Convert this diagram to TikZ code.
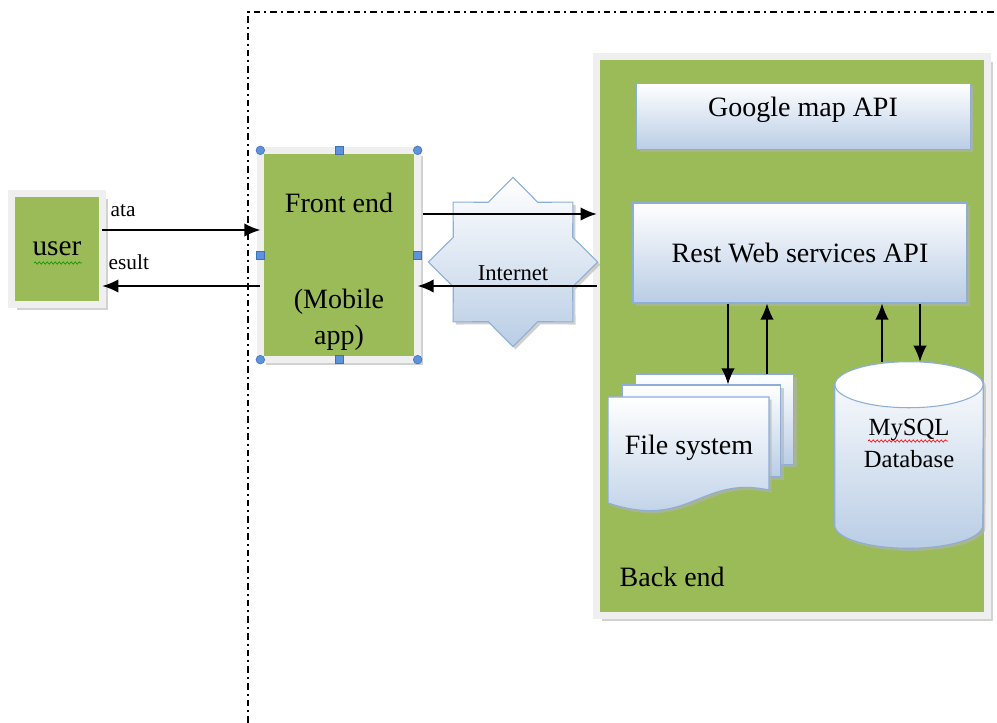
\documentclass[tikz,border=0pt]{standalone}
\usepackage{fontspec}
\setmainfont{Liberation Serif}
\usetikzlibrary{shapes.geometric, shadows, arrows.meta, decorations.pathmorphing, positioning}

\definecolor{leaf}{HTML}{9BBB59}
\definecolor{rim}{HTML}{EFEFEF}
\definecolor{skyedge}{HTML}{8DAED8}
\definecolor{skylow}{HTML}{B9CDE5}
\definecolor{grip}{HTML}{5E92DA}
\definecolor{gripedge}{HTML}{3F6FB6}

\newcommand{\fs}[1]{\fontsize{#1}{1.2\dimexpr#1pt\relax}\selectfont}

\begin{document}
\begin{tikzpicture}[x=0.75pt, y=-0.75pt,
    frame/.style={fill=leaf, draw=rim, line width=5pt, outer sep=0pt,
        drop shadow={shadow xshift=4pt, shadow yshift=-4pt, fill=black!25, opacity=0.7}},
    sky/.style={top color=white, bottom color=skylow, draw=skyedge, line width=0.8pt,
        drop shadow={shadow xshift=2pt, shadow yshift=-2pt, fill=black!30, opacity=0.6}},
    flow/.style={draw, line width=1.1pt, -{Latex[length=12pt,width=10pt]}},
    gripdot/.style={circle, fill=grip, draw=gripedge, line width=0.4pt, inner sep=0pt, minimum size=6.5pt},
    gripsq/.style={rectangle, fill=grip, draw=gripedge, line width=0.4pt, inner sep=0pt, minimum size=6pt},
    border/.style={line width=1.1pt, dash pattern=on 5pt off 3pt on 1.5pt off 3pt},
    squiggle/.style={decorate, decoration={snake, amplitude=0.8pt, segment length=3pt}, line width=0.5pt}]

    \useasboundingbox[fill=white] (0,0) rectangle (997,723);

    % dash-dot boundary
    \draw[border] (248,723) -- (248,12) -- (997,12);

    % back end
    \node[frame, minimum width=293pt, minimum height=419pt] (back) at (792,336) {};
    \node[sky, minimum width=250pt, minimum height=50pt] (gmap) at (803.5,116.5) {};
    \node[anchor=base, font=\fs{21}] (gmaplbl) at (803,117) {Google map API};
    \node[sky, minimum width=250.5pt, minimum height=75pt, font=\fs{21}] (rest) at (800,253) {Rest Web services API};

    % file system
    \node[sky, minimum width=119pt, minimum height=68pt] (fsback) at (714.5,419.5) {};
    \node[sky, minimum width=119pt, minimum height=69pt] (fsmid) at (701.5,431) {};
    \path[sky] (608,397) -- (769,397) -- (769,490) .. controls (700,475) and (690,530) .. (608,503) -- cycle;
    \node[font=\fs{21}] (files) at (689,448) {File system};

    % database
    \node[minimum width=111pt, minimum height=139.5pt, inner sep=0pt] (db) at (909,455) {};
    \path[sky] ([yshift=-17.25pt]db.north west) -- ([yshift=17.25pt]db.south west)
        arc[start angle=180, end angle=360, x radius=55.5pt, y radius=17.25pt]
        -- ([yshift=-17.25pt]db.north east)
        arc[start angle=0, end angle=180, x radius=55.5pt, y radius=17.25pt] -- cycle;
    \draw[skyedge, line width=0.8pt, fill=white] ([yshift=-17.25pt]db.north) ellipse[x radius=55.5pt, y radius=17.25pt];
    \node[align=center, font=\fontsize{18.5}{24}\selectfont] (dblbl) at (909,443) {MySQL\\Database};
    \draw[squiggle, red] (868,441) -- (948,441);

    \node[anchor=base west, font=\fs{21}] (backlbl) at (615,587) {Back end};

    % internet
    \node[sky, star, star points=8, star point ratio=1.31, minimum size=127pt, inner sep=0pt] (inet) at (513,262) {};
    \node[font=\fs{17}] (inetlbl) at (513,273) {Internet};

    % front end
    \node[frame, minimum width=118pt, minimum height=157pt] (front) at (339,255) {};
    \node[font=\fs{21}] (fronttop) at (339,203) {Front end};
    \node[align=center, font=\fontsize{21}{27}\selectfont] (frontbot) at (339,320) {(Mobile\\app)};

    % user
    \node[frame, minimum width=68pt, minimum height=83pt, font=\fs{22}] (user) at (57,249) {user};
    \draw[squiggle, green!60!black] (34,263) -- (82,263);
    \node[anchor=base west, font=\fs{16}] (datalbl) at (106,217) {ata};
    \node[anchor=base west, font=\fs{16}] (resultlbl) at (104,270) {esult};

    \path
    (user.east |- 0,230) edge[flow] (front.west |- 0,230)
    (front.west |- 0,286) edge[flow] (user.east |- 0,286)
    (front.east |- 0,214) edge[flow, shorten <=4pt] (back.west |- 0,214)
    (back.west |- 0,286) edge[flow] (front.east |- 0,286)
    (rest.south -| 728,0) edge[flow] (fsmid.north -| 728,0)
    (fsback.north -| 767,0) edge[flow] (rest.south -| 767,0)
    (db.north -| 882,0) edge[flow] (rest.south -| 882,0)
    (rest.south -| 920,0) edge[flow] (db.north -| 920,0)
    ;

    % selection handles
    \foreach \a/\n in {north west/nw, north east/ne, south west/sw, south east/se}
        \node[gripdot] (g\n) at (front.\a) {};
    \foreach \a/\n in {north/n, south/s, west/w, east/e}
        \node[gripsq] (g\n) at (front.\a) {};
\end{tikzpicture}
\end{document}
